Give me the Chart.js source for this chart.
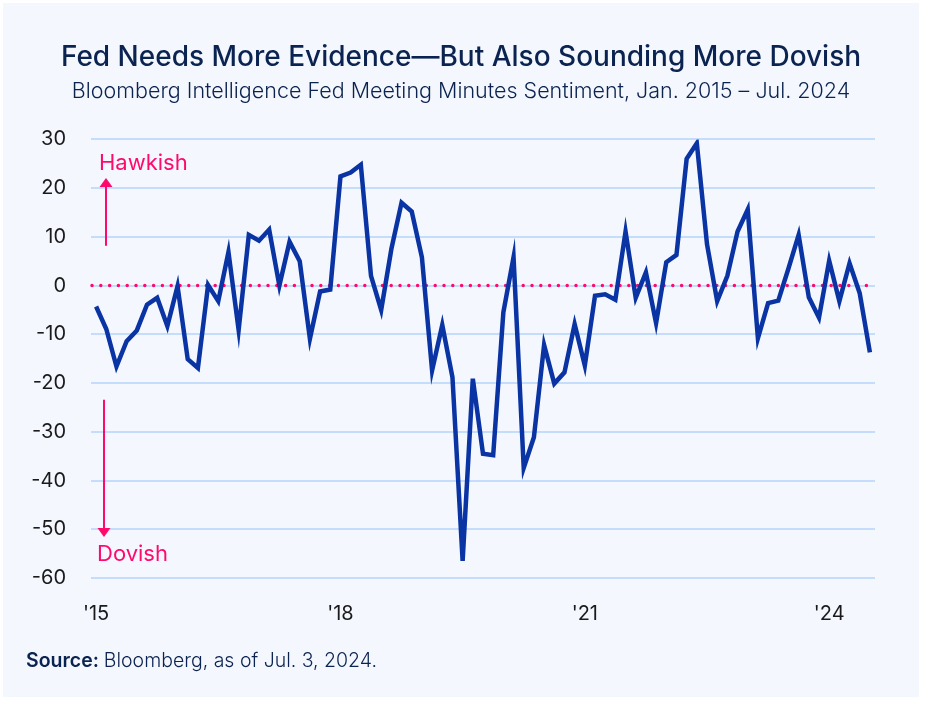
<!DOCTYPE html>
<html>
<head>
<meta charset="utf-8">
<script src="https://cdn.jsdelivr.net/npm/chart.js@4"></script>
<style>
  html, body { margin: 0; padding: 0; background: #ffffff; }
  #panel {
    position: absolute; left: 3px; top: 3px;
    width: 916px; height: 694px;
    background: #f4f8fe;
  }
</style>
</head>
<body>
<div id="panel"><canvas id="sentiment"></canvas></div>
<script>
// minutes release dates, Jan. 2015 - Jul. 2024
const releases = [
  '2015-01','2015-02','2015-04','2015-05','2015-07','2015-08','2015-10','2015-11',
  '2016-01','2016-02','2016-04','2016-05','2016-07','2016-08','2016-10','2016-11',
  '2017-01','2017-02','2017-04','2017-05','2017-07','2017-08','2017-10','2017-11',
  '2018-01','2018-02','2018-04','2018-05','2018-07','2018-08','2018-10','2018-11',
  '2019-01','2019-02','2019-04','2019-05','2019-07','2019-08','2019-10','2019-11',
  '2020-01','2020-02','2020-04','2020-05','2020-07','2020-08','2020-10','2020-11',
  '2021-01','2021-02','2021-04','2021-05','2021-07','2021-08','2021-10','2021-11',
  '2022-01','2022-02','2022-04','2022-05','2022-07','2022-08','2022-10','2022-11',
  '2023-01','2023-02','2023-04','2023-05','2023-07','2023-08','2023-10','2023-11',
  '2024-01','2024-02','2024-04','2024-05','2024-07'
];

const sentiment = [
  -4.3, -8.9, -16.6, -11.4, -9.2, -3.9, -2.5, -8.3,
  -0.1, -15.1, -16.9, 0.1, -3.2, 6.9, -9.1, 10.4,
  9.2, 11.5, 0.0, 9.0, 5.0, -10.9, -1.2, -0.8,
  22.4, 23.2, 24.8, 2.0, -5.0, 7.5, 17.0, 15.2,
  5.8, -17.4, -8.1, -18.8, -56.5, -19.1, -34.5, -34.8,
  -5.5, 5.8, -37.4, -31.1, -12.2, -20.1, -17.8, -7.9,
  -16.4, -2.1, -1.8, -2.9, 11.1, -2.5, 2.7, -7.7,
  4.8, 6.3, 26.0, 29.2, 8.5, -3.2, 2.0, 11.1,
  15.6, -10.8, -3.6, -3.1, 3.5, 10.4, -2.4, -6.6,
  5.1, -3.2, 4.6, -1.6, -13.7
];

const xTickAt = ['2015-01', '2018-01', '2021-01', '2024-01'];
const xTickLabels = ["'15", "'18", "'21", "'24"];

const yMin = -60, yMax = 30, yStep = 10;

const PINK = '#ff0a6c';
const NAVY = '#0b2350';
const FONT = 'Inter, "DejaVu Sans", sans-serif';

const zeroLinePlugin = {
  id: 'zeroLine',
  beforeDatasetsDraw(chart) {
    const { ctx, chartArea, scales: { y } } = chart;
    const py = y.getPixelForValue(0);
    ctx.save();
    ctx.strokeStyle = PINK;
    ctx.lineWidth = 3.5;
    ctx.lineCap = 'round';
    ctx.setLineDash([0, 8.8]);
    ctx.beginPath();
    ctx.moveTo(chartArea.left + 1, py);
    ctx.lineTo(chartArea.right, py);
    ctx.stroke();
    ctx.restore();
  }
};

function drawArrow(ctx, x, yFrom, yTo) {
  const dir = yTo < yFrom ? -1 : 1;
  ctx.beginPath();
  ctx.moveTo(x, yFrom);
  ctx.lineTo(x, yTo - dir * 8);
  ctx.stroke();
  ctx.beginPath();
  ctx.moveTo(x, yTo);
  ctx.lineTo(x - 6.5, yTo - dir * 9);
  ctx.lineTo(x + 6.5, yTo - dir * 9);
  ctx.closePath();
  ctx.fill();
}

const directionPlugin = {
  id: 'direction',
  afterDraw(chart) {
    const { ctx, chartArea, scales: { y } } = chart;
    const ax = chartArea.left + 14;
    ctx.save();
    ctx.strokeStyle = PINK;
    ctx.fillStyle = PINK;
    ctx.lineWidth = 2;
    drawArrow(ctx, ax + 1, y.getPixelForValue(8.2), y.getPixelForValue(22.1));
    drawArrow(ctx, ax - 1, y.getPixelForValue(-23.4), y.getPixelForValue(-51.6));

    ctx.font = '400 22px ' + FONT;
    ctx.textBaseline = 'middle';
    ctx.textAlign = 'left';
    ctx.fillText('Hawkish', chartArea.left + 8, y.getPixelForValue(25.1));
    ctx.fillText('Dovish', chartArea.left + 6, y.getPixelForValue(-55.1));
    ctx.restore();
  }
};

const sourcePlugin = {
  id: 'source',
  afterDraw(chart) {
    const { ctx } = chart;
    ctx.save();
    ctx.fillStyle = NAVY;
    ctx.textBaseline = 'middle';
    ctx.textAlign = 'left';
    ctx.font = '600 19.5px ' + FONT;
    const label = 'Source:';
    ctx.fillText(label, 23, 658);
    const w = ctx.measureText(label + ' ').width;
    ctx.font = '300 19.5px ' + FONT;
    ctx.fillText('Bloomberg, as of Jul. 3, 2024.', 23 + w, 658);
    ctx.restore();
  }
};

new Chart(document.getElementById('sentiment'), {
  type: 'line',
  data: {
    labels: releases,
    datasets: [{
      data: sentiment,
      borderColor: '#0a33a3',
      borderWidth: 4.5,
      pointRadius: 0,
      tension: 0,
      fill: false
    }]
  },
  options: {
    responsive: true,
    maintainAspectRatio: false,
    animation: false,
    layout: { padding: { left: 0, right: 0, top: 0, bottom: 75 } },
    plugins: {
      legend: { display: false },
      tooltip: { enabled: false },
      title: {
        display: true,
        text: 'Fed Needs More Evidence\u2014But Also Sounding More Dovish',
        color: NAVY,
        font: { family: FONT, size: 28, weight: '500', lineHeight: 1.2 },
        padding: { top: 38.2, bottom: 2 }
      },
      subtitle: {
        display: true,
        text: 'Bloomberg Intelligence Fed Meeting Minutes Sentiment, Jan. 2015 \u2013 Jul. 2024',
        color: NAVY,
        font: { family: FONT, size: 21.5, weight: '300', lineHeight: 1.2 },
        padding: { top: 2.2, bottom: 34.6 }
      }
    },
    scales: {
      x: {
        type: 'category',
        offset: true,
        grid: { display: false },
        border: { display: false },
        ticks: {
          autoSkip: false,
          maxRotation: 0,
          padding: 16,
          color: '#1a1a1a',
          font: { family: FONT, size: 20 },
          callback(value) {
            const i = xTickAt.indexOf(this.getLabelForValue(value));
            return i >= 0 ? xTickLabels[i] : '';
          }
        },
        afterFit(scale) { scale.height = 44; }
      },
      y: {
        min: yMin,
        max: yMax,
        border: { display: false },
        grid: { color: '#c3ddfa', lineWidth: 2, drawTicks: false },
        ticks: {
          stepSize: yStep,
          padding: 25,
          color: '#1a1a1a',
          font: { family: FONT, size: 20 }
        },
        afterFit(scale) { scale.width = 88; }
      },
      // empty right axis: reserves the right margin so the titles stay centred on the panel
      yRight: {
        position: 'right',
        min: yMin,
        max: yMax,
        border: { display: false },
        grid: { display: false },
        ticks: { display: false },
        afterFit(scale) { scale.width = 44; }
      }
    }
  },
  plugins: [zeroLinePlugin, directionPlugin, sourcePlugin]
});
</script>
</body>
</html>
